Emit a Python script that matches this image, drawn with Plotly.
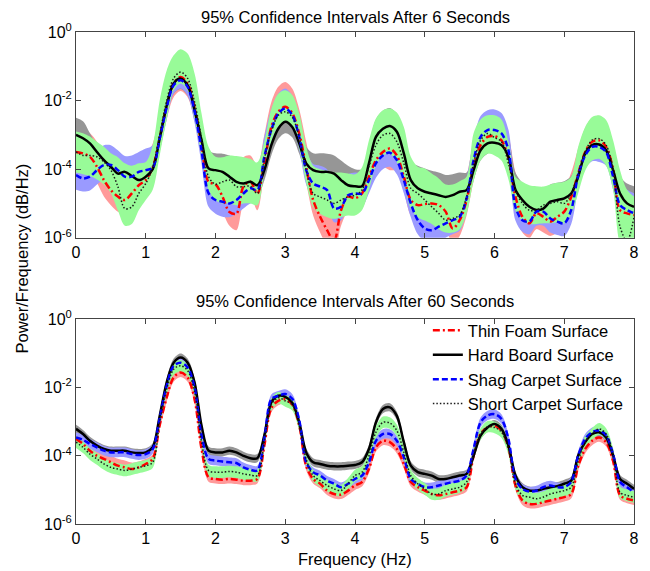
import numpy as np
import plotly.graph_objects as go

# ---------------- data (log10 of PSD) ----------------
freq = [0.0, 0.1, 0.2, 0.3, 0.4, 0.5, 0.6, 0.7, 0.8, 0.9,
        1.0, 1.1, 1.2, 1.3, 1.4, 1.5, 1.6, 1.7, 1.8, 1.9,
        2.0, 2.1, 2.2, 2.3, 2.4, 2.5, 2.6, 2.7, 2.8, 2.9,
        3.0, 3.1, 3.2, 3.3, 3.4, 3.5, 3.6, 3.7, 3.8, 3.9,
        4.0, 4.1, 4.2, 4.3, 4.4, 4.5, 4.6, 4.7, 4.8, 4.9,
        5.0, 5.1, 5.2, 5.3, 5.4, 5.5, 5.6, 5.7, 5.8, 5.9,
        6.0, 6.1, 6.2, 6.3, 6.4, 6.5, 6.6, 6.7, 6.8, 6.9,
        7.0, 7.1, 7.2, 7.3, 7.4, 7.5, 7.6, 7.7, 7.8, 7.9,
        8.0]

series_names = ["Thin Foam Surface", "Hard Board Surface",
                "Shag Carpet Surface", "Short Carpet Surface"]
y_tick_labels = ["10<sup>-6</sup>", "10<sup>-4</sup>", "10<sup>-2</sup>", "10<sup>0</sup>"]
x_tick_labels = ["0", "1", "2", "3", "4", "5", "6", "7", "8"]

# ---- top panel: after 6 seconds ----
top_foam = [-3.5, -3.54, -3.64, -3.93, -4.32, -4.61, -4.8, -4.9, -4.71, -4.47,
            -4.32, -3.95, -3.1, -2.15, -1.5, -1.31, -1.5, -2.2, -3.3, -4.37,
            -4.44, -4.8, -5.25, -5.3, -4.51, -4.37, -4.71, -3.83, -2.77, -2.33,
            -2.18, -2.37, -2.96, -3.93, -4.9, -5.39, -5.78, -6.1, -5.2, -4.8,
            -4.85, -4.71, -4.22, -3.74, -3.5, -3.4, -3.6, -4.22, -4.9, -5.05,
            -5.02, -5.0, -5.05, -5.24, -5.73, -5.49, -4.9, -3.93, -3.3, -3.06,
            -3.04, -3.16, -3.69, -4.8, -5.39, -5.58, -5.29, -5.39, -5.53, -5.39,
            -5.24, -4.81, -4.13, -3.5, -3.2, -3.16, -3.35, -4.0, -5.2, -5.29,
            -5.34]
top_foam_hi = [-2.8, -2.85, -2.95, -3.2, -3.6, -3.9, -4.1, -4.2, -4.0, -3.75,
               -3.6, -3.25, -2.4, -1.45, -0.8, -0.6, -0.8, -1.5, -2.55, -3.65,
               -3.7, -3.9, -4.2, -4.3, -3.65, -3.6, -3.9, -3.0, -2.05, -1.6,
               -1.46, -1.65, -2.25, -3.2, -4.1, -4.6, -4.9, -5.1, -4.5, -4.1,
               -4.15, -4.0, -3.5, -3.0, -2.8, -2.7, -2.9, -3.5, -4.2, -4.35,
               -4.3, -4.3, -4.35, -4.5, -4.95, -4.8, -4.2, -3.2, -2.6, -2.35,
               -2.33, -2.45, -3.0, -4.1, -4.7, -4.85, -4.6, -4.7, -4.8, -4.7,
               -4.55, -4.1, -3.4, -2.8, -2.5, -2.45, -2.65, -3.3, -4.5, -4.6,
               -4.65]
top_foam_lo = [-3.95, -4.0, -4.1, -4.4, -4.8, -5.05, -5.24, -5.3, -5.15, -4.9,
               -4.75, -4.4, -3.5, -2.55, -1.9, -1.72, -1.9, -2.6, -3.7, -4.8,
               -4.9, -5.25, -5.65, -5.78, -5.0, -4.8, -5.2, -4.1, -3.2, -2.75,
               -2.6, -2.8, -3.4, -4.4, -5.35, -5.85, -6.25, -6.5, -5.65, -5.25,
               -5.3, -5.15, -4.65, -4.2, -3.95, -4.03, -4.05, -4.65, -5.35, -5.5,
               -5.45, -5.45, -5.5, -5.7, -6.2, -5.95, -5.35, -4.35, -3.7, -3.5,
               -3.45, -3.6, -4.1, -5.25, -5.85, -6.0, -5.75, -5.85, -5.95, -5.85,
               -5.7, -5.25, -4.55, -3.95, -3.65, -3.6, -3.8, -4.45, -5.65, -5.75,
               -5.8]

top_hard = [-3.0, -3.1, -3.25, -3.5, -3.74, -3.93, -4.13, -4.08, -4.2, -4.32,
            -4.22, -4.0, -3.1, -2.15, -1.5, -1.36, -1.55, -2.28, -3.16, -3.98,
            -4.03, -4.08, -4.22, -4.37, -4.42, -4.37, -4.47, -4.03, -3.3, -2.82,
            -2.62, -2.77, -3.25, -3.83, -4.03, -4.08, -4.08, -4.13, -4.32, -4.47,
            -4.5, -4.5, -3.83, -3.06, -2.82, -2.74, -2.91, -3.54, -4.32, -4.56,
            -4.66, -4.71, -4.76, -4.81, -4.76, -4.66, -4.61, -4.03, -3.45, -3.25,
            -3.23, -3.3, -3.64, -4.6, -4.9, -5.1, -5.19, -5.15, -4.95, -4.9,
            -4.85, -4.71, -4.22, -3.54, -3.3, -3.28, -3.45, -4.03, -4.71, -5.0,
            -5.1]
top_hard_hi = [-2.5, -2.6, -2.95, -3.3, -3.5, -3.65, -3.72, -3.64, -3.7, -3.85,
               -3.75, -3.5, -2.6, -1.65, -1.0, -0.86, -1.05, -1.75, -2.65, -3.45,
               -3.54, -3.55, -3.6, -3.72, -3.8, -3.78, -3.85, -3.5, -2.8, -2.3,
               -2.1, -2.25, -2.75, -3.35, -3.54, -3.54, -3.55, -3.6, -3.75, -3.9,
               -4.0, -4.0, -3.3, -2.55, -2.3, -2.22, -2.4, -3.0, -3.8, -3.9,
               -3.98, -4.05, -4.1, -4.17, -4.15, -4.1, -4.1, -3.5, -2.95, -2.75,
               -2.73, -2.8, -3.1, -4.1, -4.4, -4.6, -4.7, -4.65, -4.45, -4.4,
               -4.35, -4.2, -3.7, -3.0, -2.8, -2.78, -2.95, -3.5, -4.2, -4.42,
               -4.5]
top_hard_lo = [-3.3, -3.4, -3.55, -3.8, -4.05, -4.25, -4.45, -4.4, -4.5, -4.62,
               -4.52, -4.3, -3.4, -2.45, -1.8, -1.66, -1.85, -2.58, -3.46, -4.28,
               -4.33, -4.38, -4.52, -4.67, -4.72, -4.67, -4.77, -4.33, -3.6, -3.12,
               -2.95, -3.07, -3.55, -4.13, -4.33, -4.38, -4.38, -4.43, -4.62, -4.77,
               -4.8, -4.8, -4.13, -3.36, -3.12, -3.04, -3.21, -3.84, -4.62, -4.86,
               -4.96, -5.01, -5.06, -5.11, -5.06, -4.96, -4.91, -4.33, -3.75, -3.55,
               -3.5, -3.6, -3.94, -4.9, -5.2, -5.4, -5.49, -5.45, -5.25, -5.2,
               -5.15, -5.01, -4.52, -3.84, -3.6, -3.58, -3.75, -4.33, -5.01, -5.3,
               -5.4]

top_shag = [-4.17, -4.27, -4.22, -4.03, -3.88, -3.88, -4.03, -4.22, -4.22, -4.08,
            -4.03, -3.95, -3.1, -2.2, -1.55, -1.41, -1.6, -2.3, -3.45, -4.7,
            -4.9, -4.95, -5.0, -4.9, -4.71, -4.56, -4.61, -3.64, -2.86, -2.38,
            -2.23, -2.42, -3.06, -4.03, -4.42, -4.51, -4.61, -5.15, -5.1, -4.76,
            -4.71, -4.71, -4.32, -3.83, -3.6, -3.52, -3.74, -4.32, -5.0, -5.49,
            -5.73, -5.78, -5.68, -5.58, -5.49, -5.39, -4.85, -3.74, -3.06, -2.86,
            -2.86, -2.96, -3.45, -5.1, -5.49, -5.53, -5.24, -5.24, -5.44, -5.53,
            -5.58, -5.19, -4.17, -3.6, -3.35, -3.35, -3.5, -4.22, -5.05, -5.19,
            -5.29]
top_shag_hi = [-3.55, -3.65, -3.6, -3.45, -3.3, -3.3, -3.45, -3.62, -3.6, -3.5,
               -3.4, -3.3, -2.5, -1.6, -0.95, -0.82, -1.0, -1.7, -2.85, -4.1,
               -4.3, -4.35, -4.4, -4.3, -4.1, -3.95, -4.0, -3.05, -2.25, -1.8,
               -1.65, -1.85, -2.45, -3.45, -3.85, -3.9, -4.0, -4.55, -4.5, -4.15,
               -4.1, -4.1, -3.7, -3.25, -3.0, -2.93, -3.15, -3.7, -4.4, -4.9,
               -5.1, -5.15, -5.1, -5.0, -4.9, -4.8, -4.25, -3.15, -2.45, -2.28,
               -2.26, -2.36, -2.85, -4.5, -4.9, -4.95, -4.65, -4.65, -4.85, -4.95,
               -5.0, -4.6, -3.6, -3.0, -2.75, -2.75, -2.9, -3.6, -4.45, -4.6,
               -4.7]
top_shag_lo = [-4.6, -4.65, -4.62, -4.45, -4.3, -4.28, -4.45, -4.6, -4.6, -4.5,
               -4.45, -4.35, -3.5, -2.55, -1.8, -1.65, -1.85, -2.65, -3.85, -5.1,
               -5.3, -5.39, -5.4, -5.3, -5.15, -5.0, -5.0, -4.05, -3.25, -2.75,
               -2.6, -2.8, -3.45, -4.45, -4.85, -4.9, -5.0, -5.55, -5.5, -5.15,
               -5.1, -5.1, -4.7, -4.25, -4.0, -3.93, -4.15, -4.7, -5.4, -5.9,
               -6.1, -6.15, -6.1, -6.0, -5.9, -5.8, -5.25, -4.15, -3.45, -3.25,
               -3.25, -3.35, -3.85, -5.5, -5.83, -5.9, -5.65, -5.65, -5.85, -5.92,
               -5.95, -5.6, -4.6, -4.0, -3.77, -3.79, -3.9, -4.6, -5.45, -5.6,
               -5.7]

top_short = [-3.5, -3.6, -3.6, -3.64, -3.79, -4.03, -4.51, -5.15, -5.1, -4.71,
             -4.42, -3.95, -3.0, -2.0, -1.35, -1.17, -1.35, -2.05, -3.1, -4.22,
             -4.44, -4.37, -4.32, -4.51, -4.51, -4.5, -4.71, -3.7, -2.9, -2.43,
             -2.33, -2.48, -3.06, -4.03, -4.71, -4.81, -4.9, -5.0, -4.9, -4.81,
             -4.76, -4.61, -3.93, -3.3, -3.01, -2.96, -3.2, -3.83, -4.56, -4.71,
             -4.9, -5.1, -5.29, -5.49, -5.44, -5.34, -4.81, -3.83, -3.16, -2.96,
             -3.08, -3.2, -3.84, -4.61, -5.0, -5.2, -5.2, -5.05, -5.0, -4.95,
             -5.0, -4.71, -4.13, -3.5, -3.15, -3.11, -3.3, -4.0, -5.68, -6.1,
             -5.4]
top_short_hi = [-2.9, -2.95, -3.05, -3.2, -3.35, -3.54, -3.65, -3.83, -3.9, -3.83,
                -3.79, -3.3, -2.0, -1.12, -0.68, -0.5, -0.63, -1.21, -2.38, -3.35,
                -3.64, -3.65, -3.6, -3.62, -3.65, -3.7, -3.8, -3.2, -2.25, -1.8,
                -1.7, -1.84, -2.38, -3.35, -3.9, -4.0, -4.05, -4.1, -4.1, -4.13,
                -4.15, -3.95, -3.16, -2.52, -2.28, -2.23, -2.35, -2.77, -3.64, -3.93,
                -3.98, -4.13, -4.27, -4.45, -4.45, -4.35, -4.22, -2.95, -2.55, -2.43,
                -2.43, -2.55, -3.2, -4.22, -4.37, -4.47, -4.5, -4.51, -4.45, -4.4,
                -4.37, -4.22, -3.35, -2.77, -2.48, -2.43, -2.57, -3.16, -4.03, -4.6,
                -4.8]
top_short_lo = [-4.1, -4.15, -4.2, -4.3, -4.45, -4.7, -5.2, -5.65, -5.6, -5.2,
                -4.9, -4.6, -3.6, -2.55, -1.7, -1.5, -1.7, -2.5, -3.6, -4.6,
                -4.9, -5.0, -5.0, -5.05, -5.0, -5.0, -5.05, -4.1, -3.2, -2.75,
                -2.65, -2.8, -3.4, -4.4, -5.1, -5.3, -5.4, -5.45, -5.4, -5.35,
                -5.35, -5.2, -4.6, -3.9, -3.6, -3.55, -3.8, -4.4, -5.15, -5.4,
                -5.5, -5.6, -5.75, -5.85, -5.85, -5.75, -5.3, -4.35, -3.75, -3.55,
                -3.6, -3.75, -4.3, -5.2, -5.5, -5.6, -5.6, -5.58, -5.58, -5.55,
                -5.58, -5.3, -4.7, -4.05, -3.75, -3.7, -3.9, -4.6, -6.2, -6.5,
                -6.1]

# ---- bottom panel: after 60 seconds ----
bot_foam = [-3.51, -3.65, -3.85, -4.0, -4.09, -4.19, -4.29, -4.34, -4.39, -4.34,
            -4.24, -4.09, -3.1, -2.29, -1.7, -1.56, -1.7, -2.34, -3.8, -4.63,
            -4.68, -4.7, -4.68, -4.7, -4.73, -4.73, -4.68, -3.7, -2.6, -2.39,
            -2.34, -2.5, -3.1, -4.3, -4.68, -4.82, -5.02, -5.12, -5.14, -5.02,
            -4.87, -4.77, -4.38, -3.75, -3.56, -3.6, -3.8, -4.24, -4.77, -4.92,
            -5.02, -5.12, -5.16, -5.12, -5.07, -5.02, -4.92, -4.0, -3.36, -3.17,
            -3.12, -3.26, -3.75, -4.87, -5.31, -5.41, -5.41, -5.36, -5.31, -5.26,
            -5.21, -5.12, -4.3, -3.8, -3.56, -3.46, -3.6, -4.15, -5.16, -5.26,
            -5.31]
bot_foam_hi = [-3.38, -3.52, -3.72, -3.85, -3.92, -4.0, -4.09, -4.14, -4.2, -4.17,
               -4.09, -3.96, -2.97, -2.16, -1.57, -1.43, -1.57, -2.21, -3.67, -4.5,
               -4.55, -4.57, -4.55, -4.57, -4.6, -4.6, -4.55, -3.57, -2.47, -2.26,
               -2.21, -2.37, -2.97, -4.17, -4.55, -4.69, -4.89, -4.99, -5.01, -4.89,
               -4.74, -4.64, -4.25, -3.62, -3.43, -3.47, -3.67, -4.11, -4.64, -4.79,
               -4.89, -4.99, -5.03, -4.99, -4.94, -4.89, -4.79, -3.87, -3.23, -3.04,
               -2.99, -3.13, -3.62, -4.74, -5.18, -5.28, -5.28, -5.23, -5.18, -5.13,
               -5.08, -4.99, -4.17, -3.67, -3.43, -3.33, -3.47, -4.02, -5.03, -5.13,
               -5.18]
bot_foam_lo = [-3.64, -3.78, -3.98, -4.13, -4.22, -4.32, -4.42, -4.47, -4.52, -4.47,
               -4.37, -4.22, -3.23, -2.42, -1.83, -1.69, -1.83, -2.47, -3.93, -4.76,
               -4.81, -4.83, -4.81, -4.83, -4.86, -4.86, -4.81, -3.83, -2.73, -2.52,
               -2.47, -2.63, -3.23, -4.43, -4.81, -4.95, -5.15, -5.25, -5.27, -5.15,
               -5.0, -4.9, -4.51, -3.88, -3.69, -3.73, -3.93, -4.37, -4.9, -5.05,
               -5.15, -5.25, -5.29, -5.25, -5.2, -5.15, -5.05, -4.13, -3.49, -3.3,
               -3.25, -3.39, -3.88, -5.0, -5.44, -5.54, -5.54, -5.49, -5.44, -5.39,
               -5.34, -5.25, -4.43, -3.93, -3.69, -3.59, -3.73, -4.28, -5.29, -5.39,
               -5.44]

bot_hard = [-3.21, -3.36, -3.56, -3.7, -3.8, -3.85, -3.85, -3.85, -3.9, -3.92,
            -3.9, -3.75, -2.83, -1.85, -1.27, -1.12, -1.27, -1.85, -3.12, -3.85,
            -3.9, -3.9, -3.85, -3.9, -4.0, -4.07, -4.07, -3.4, -2.43, -2.24,
            -2.27, -2.44, -3.02, -3.9, -4.19, -4.24, -4.29, -4.31, -4.31, -4.29,
            -4.27, -4.19, -3.8, -3.02, -2.63, -2.58, -2.83, -3.6, -4.29, -4.48,
            -4.53, -4.58, -4.68, -4.68, -4.63, -4.58, -4.53, -4.0, -3.41, -3.17,
            -3.07, -3.21, -3.7, -4.58, -4.92, -5.02, -5.02, -4.97, -4.92, -4.89,
            -4.82, -4.73, -3.99, -3.6, -3.36, -3.31, -3.46, -3.99, -4.68, -4.82,
            -4.97]
bot_hard_hi = [-3.09, -3.24, -3.44, -3.58, -3.68, -3.73, -3.73, -3.73, -3.78, -3.8,
               -3.78, -3.63, -2.71, -1.73, -1.15, -1.0, -1.15, -1.73, -3.0, -3.73,
               -3.78, -3.78, -3.73, -3.78, -3.88, -3.95, -3.95, -3.28, -2.31, -2.12,
               -2.15, -2.32, -2.9, -3.78, -4.07, -4.12, -4.17, -4.19, -4.19, -4.17,
               -4.15, -4.07, -3.68, -2.9, -2.51, -2.46, -2.71, -3.48, -4.17, -4.36,
               -4.41, -4.46, -4.56, -4.56, -4.51, -4.46, -4.41, -3.88, -3.29, -3.05,
               -2.95, -3.09, -3.58, -4.46, -4.8, -4.9, -4.9, -4.85, -4.8, -4.77,
               -4.7, -4.61, -3.87, -3.48, -3.24, -3.19, -3.34, -3.87, -4.56, -4.7,
               -4.85]
bot_hard_lo = [-3.33, -3.48, -3.68, -3.82, -3.92, -3.97, -3.97, -3.97, -4.02, -4.04,
               -4.02, -3.87, -2.95, -1.97, -1.39, -1.24, -1.39, -1.97, -3.24, -3.97,
               -4.02, -4.02, -3.97, -4.02, -4.12, -4.19, -4.19, -3.52, -2.55, -2.36,
               -2.39, -2.56, -3.14, -4.02, -4.31, -4.36, -4.41, -4.43, -4.43, -4.41,
               -4.39, -4.31, -3.92, -3.14, -2.75, -2.7, -2.95, -3.72, -4.41, -4.6,
               -4.65, -4.7, -4.8, -4.8, -4.75, -4.7, -4.65, -4.12, -3.53, -3.29,
               -3.19, -3.33, -3.82, -4.7, -5.04, -5.14, -5.14, -5.09, -5.04, -5.01,
               -4.94, -4.85, -4.11, -3.72, -3.48, -3.43, -3.58, -4.11, -4.8, -4.94,
               -5.09]

bot_shag = [-3.46, -3.53, -3.65, -3.75, -3.85, -3.9, -3.9, -3.9, -3.95, -3.98,
            -3.95, -3.8, -2.9, -1.95, -1.36, -1.27, -1.41, -2.0, -3.41, -4.09,
            -4.14, -4.17, -4.19, -4.21, -4.34, -4.41, -4.43, -3.5, -2.34, -2.24,
            -2.19, -2.33, -2.95, -4.19, -4.48, -4.58, -4.73, -4.82, -4.92, -4.82,
            -4.68, -4.58, -4.19, -3.56, -3.36, -3.36, -3.56, -4.04, -4.68, -4.82,
            -4.92, -4.92, -4.87, -4.82, -4.77, -4.73, -4.58, -3.8, -3.02, -2.82,
            -2.78, -2.92, -3.51, -4.68, -4.97, -5.05, -5.02, -4.92, -4.87, -4.92,
            -4.92, -4.77, -4.0, -3.5, -3.31, -3.26, -3.4, -3.95, -4.77, -4.92,
            -5.07]
bot_shag_hi = [-3.32, -3.39, -3.51, -3.61, -3.71, -3.76, -3.76, -3.76, -3.81, -3.84,
               -3.81, -3.66, -2.76, -1.81, -1.22, -1.13, -1.27, -1.86, -3.27, -3.95,
               -4.0, -4.03, -4.05, -4.07, -4.2, -4.27, -4.29, -3.36, -2.2, -2.1,
               -2.05, -2.19, -2.81, -4.05, -4.34, -4.44, -4.59, -4.68, -4.78, -4.68,
               -4.54, -4.44, -4.05, -3.42, -3.22, -3.22, -3.42, -3.9, -4.54, -4.68,
               -4.78, -4.78, -4.73, -4.68, -4.63, -4.59, -4.44, -3.66, -2.88, -2.68,
               -2.64, -2.78, -3.37, -4.54, -4.83, -4.91, -4.88, -4.78, -4.73, -4.78,
               -4.78, -4.63, -3.86, -3.36, -3.17, -3.12, -3.26, -3.81, -4.63, -4.78,
               -4.93]
bot_shag_lo = [-3.6, -3.67, -3.79, -3.89, -3.99, -4.04, -4.04, -4.04, -4.09, -4.12,
               -4.09, -3.94, -3.04, -2.09, -1.5, -1.41, -1.55, -2.14, -3.55, -4.23,
               -4.28, -4.31, -4.33, -4.35, -4.48, -4.55, -4.57, -3.64, -2.48, -2.38,
               -2.33, -2.47, -3.09, -4.33, -4.62, -4.72, -4.87, -4.96, -5.06, -4.96,
               -4.82, -4.72, -4.33, -3.7, -3.5, -3.5, -3.7, -4.18, -4.82, -4.96,
               -5.06, -5.06, -5.01, -4.96, -4.91, -4.87, -4.72, -3.94, -3.16, -2.96,
               -2.92, -3.06, -3.65, -4.82, -5.11, -5.19, -5.16, -5.06, -5.01, -5.06,
               -5.06, -4.91, -4.14, -3.64, -3.45, -3.4, -3.54, -4.09, -4.91, -5.06,
               -5.21]

bot_short = [-3.6, -3.75, -3.95, -4.09, -4.24, -4.34, -4.39, -4.43, -4.39, -4.34,
             -4.29, -4.19, -3.0, -2.05, -1.46, -1.36, -1.5, -2.1, -3.6, -4.43,
             -4.48, -4.48, -4.46, -4.48, -4.53, -4.56, -4.58, -3.6, -2.5, -2.3,
             -2.39, -2.5, -3.1, -4.1, -4.58, -4.73, -4.87, -4.97, -5.02, -4.82,
             -4.58, -4.48, -4.0, -3.31, -3.02, -3.04, -3.26, -3.9, -4.58, -4.82,
             -4.97, -5.12, -5.12, -5.02, -4.97, -4.92, -4.77, -3.95, -3.36, -3.15,
             -3.17, -3.3, -3.8, -4.82, -5.16, -5.21, -5.26, -5.21, -5.12, -5.07,
             -5.02, -4.92, -4.15, -3.6, -3.36, -3.21, -3.36, -3.95, -5.07, -5.16,
             -5.21]
bot_short_hi = [-3.43, -3.58, -3.78, -3.92, -4.07, -4.17, -4.22, -4.26, -4.22, -4.17,
                -4.12, -4.02, -2.83, -1.88, -1.29, -1.19, -1.33, -1.93, -3.43, -4.26,
                -4.31, -4.31, -4.29, -4.31, -4.36, -4.39, -4.41, -3.43, -2.33, -2.13,
                -2.22, -2.33, -2.93, -3.93, -4.41, -4.56, -4.7, -4.8, -4.85, -4.65,
                -4.41, -4.31, -3.83, -3.14, -2.85, -2.87, -3.09, -3.73, -4.41, -4.65,
                -4.8, -4.95, -4.95, -4.85, -4.8, -4.75, -4.6, -3.78, -3.19, -2.98,
                -3.0, -3.13, -3.63, -4.65, -4.99, -5.04, -5.09, -5.04, -4.95, -4.9,
                -4.85, -4.75, -3.98, -3.43, -3.19, -3.04, -3.19, -3.78, -4.9, -4.99,
                -5.04]
bot_short_lo = [-3.77, -3.92, -4.12, -4.26, -4.41, -4.51, -4.56, -4.6, -4.56, -4.51,
                -4.46, -4.36, -3.17, -2.22, -1.63, -1.53, -1.67, -2.27, -3.77, -4.6,
                -4.65, -4.65, -4.63, -4.65, -4.7, -4.73, -4.75, -3.77, -2.67, -2.47,
                -2.56, -2.67, -3.27, -4.27, -4.75, -4.9, -5.04, -5.14, -5.19, -4.99,
                -4.75, -4.65, -4.17, -3.48, -3.19, -3.21, -3.43, -4.07, -4.75, -4.99,
                -5.14, -5.29, -5.29, -5.19, -5.14, -5.09, -4.94, -4.12, -3.53, -3.32,
                -3.34, -3.47, -3.97, -4.99, -5.33, -5.38, -5.43, -5.38, -5.29, -5.24,
                -5.19, -5.09, -4.32, -3.77, -3.53, -3.38, -3.53, -4.12, -5.24, -5.33,
                -5.38]

# ---------------- styling ----------------
FONT = "Liberation Sans, Arial, sans-serif"
band_colors = ["#FF9A9A", "#969696", "#9A9AFF", "#98FB98"]
line_styles = [
    dict(color="#FF0000", width=2.5, dash="7px,3px,2px,3px"),
    dict(color="#000000", width=2.5, dash="solid"),
    dict(color="#0000FF", width=2.5, dash="6px,3px"),
    dict(color="#1A1A1A", width=1.5, dash="1.5px,2px"),
]

panels = [
    dict(center=[top_foam, top_hard, top_shag, top_short],
         hi=[top_foam_hi, top_hard_hi, top_shag_hi, top_short_hi],
         lo=[top_foam_lo, top_hard_lo, top_shag_lo, top_short_lo],
         xa="x", ya="y", legend=False),
    dict(center=[bot_foam, bot_hard, bot_shag, bot_short],
         hi=[bot_foam_hi, bot_hard_hi, bot_shag_hi, bot_short_hi],
         lo=[bot_foam_lo, bot_hard_lo, bot_shag_lo, bot_short_lo],
         xa="x2", ya="y2", legend=True),
]

for p in panels:
    for arrs in (p["center"], p["hi"], p["lo"]):
        for a in arrs:
            assert len(a) == len(freq), len(a)

fig = go.Figure()
SMOOTH = 0.9
for p in panels:
    # confidence bands
    for i in range(4):
        lo = np.power(10.0, np.array(p["lo"][i]))
        hi = np.power(10.0, np.array(p["hi"][i]))
        fig.add_trace(go.Scatter(x=freq, y=lo, mode="lines", xaxis=p["xa"], yaxis=p["ya"],
                                 line=dict(width=0, shape="spline", smoothing=SMOOTH,
                                           color=band_colors[i]),
                                 showlegend=False, hoverinfo="skip"))
        fig.add_trace(go.Scatter(x=freq, y=hi, mode="lines", xaxis=p["xa"], yaxis=p["ya"],
                                 line=dict(width=0, shape="spline", smoothing=SMOOTH,
                                           color=band_colors[i]),
                                 fill="tonexty", fillcolor=band_colors[i],
                                 showlegend=False, hoverinfo="skip"))
    # mean lines
    for i in range(4):
        c = np.power(10.0, np.array(p["center"][i]))
        fig.add_trace(go.Scatter(x=freq, y=c, mode="lines", xaxis=p["xa"], yaxis=p["ya"],
                                 name=series_names[i],
                                 line=dict(shape="spline", smoothing=SMOOTH, **line_styles[i]),
                                 showlegend=p["legend"], legendgroup=series_names[i]))

# The page body adds an 8px margin, so the figure is sized/offset to compensate.
OFF = 8
W, H = 650 - OFF, 571 - OFF
ML, MR, MT, MB = 76 - OFF, 11, 32 - OFF, 47
plot_h = H - MT - MB
plot_w = W - ML - MR


def py(page_y):
    # page pixel (from top) -> paper y
    return (H - MB - (page_y - OFF)) / plot_h


def px_x(page_x):
    # page pixel (from left) -> paper x
    return (page_x - OFF - ML) / plot_w


axis_common = dict(showline=True, linecolor="#444444", linewidth=1, mirror="ticks",
                   ticks="inside", ticklen=5, tickcolor="#444444", showgrid=False,
                   zeroline=False, tickfont=dict(family=FONT, size=16, color="#000000"))

xaxis_cfg = dict(range=[0, 8], tickmode="array", tickvals=list(range(9)),
                 ticktext=x_tick_labels, **axis_common)
yaxis_cfg = dict(type="log", range=[-6, 0], tickmode="array",
                 tickvals=[1e-6, 1e-4, 1e-2, 1e0], ticktext=y_tick_labels, **axis_common)

TXT = 16.5
fig.update_layout(
    width=W, height=H,
    margin=dict(l=ML, r=MR, t=MT, b=MB),
    paper_bgcolor="white", plot_bgcolor="white",
    font=dict(family=FONT, size=TXT, color="#000000"),
    xaxis=dict(domain=[0, 1], anchor="y", **xaxis_cfg),
    yaxis=dict(domain=[py(237.7), 1], anchor="x", **yaxis_cfg),
    xaxis2=dict(domain=[0, 1], anchor="y2", **xaxis_cfg),
    yaxis2=dict(domain=[0, py(319.4)], anchor="x2", **yaxis_cfg),
    showlegend=True,
    legend=dict(x=px_x(431), y=py(313), xanchor="left", yanchor="top",
                bgcolor="rgba(0,0,0,0)", borderwidth=0, tracegroupgap=0,
                font=dict(family=FONT, size=TXT, color="#000000")),
    annotations=[
        dict(text="95% Confidence Intervals After 6 Seconds", x=0.5, y=py(17),
             xref="paper", yref="paper", showarrow=False, xanchor="center", yanchor="middle",
             font=dict(family=FONT, size=TXT)),
        dict(text="95% Confidence Intervals After 60 Seconds", x=0.5, y=py(301),
             xref="paper", yref="paper", showarrow=False, xanchor="center", yanchor="middle",
             font=dict(family=FONT, size=TXT)),
        dict(text="Power/Frequency (dB/Hz)", x=px_x(22), y=py(258), textangle=-90,
             xref="paper", yref="paper", showarrow=False, xanchor="center", yanchor="middle",
             font=dict(family=FONT, size=TXT)),
        dict(text="Frequency (Hz)", x=0.5, y=py(559),
             xref="paper", yref="paper", showarrow=False, xanchor="center", yanchor="middle",
             font=dict(family=FONT, size=TXT)),
    ],
)

fig.write_html("out.html")
